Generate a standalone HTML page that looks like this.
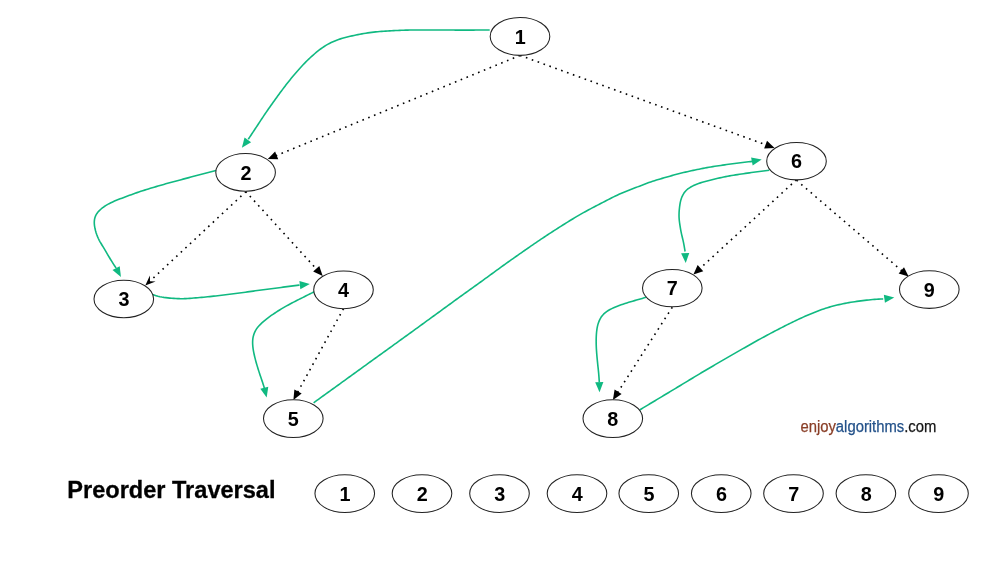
<!DOCTYPE html>
<html><head><meta charset="utf-8"><title>Preorder Traversal</title>
<style>html,body{margin:0;padding:0;background:#fff;overflow:hidden}svg{display:block;will-change:transform}text{font-family:"Liberation Sans",sans-serif}</style></head><body>
<svg width="1000" height="563" viewBox="0 0 1000 563">
<rect width="1000" height="563" fill="#fff"/>
<g>
<line x1="520.00" y1="55.40" x2="275.75" y2="155.73" stroke="#000" stroke-width="1.62" stroke-dasharray="1.62 4.63"/><polygon points="267.80,159.00 275.10,151.51 278.26,159.19" fill="#000"/>
<line x1="520.00" y1="55.40" x2="766.52" y2="145.06" stroke="#000" stroke-width="1.62" stroke-dasharray="1.62 4.63"/><polygon points="774.60,148.00 764.16,148.62 767.00,140.82" fill="#000"/>
<line x1="246.00" y1="191.60" x2="150.05" y2="281.07" stroke="#000" stroke-width="1.62" stroke-dasharray="1.62 4.63"/><polygon points="145.30,285.50 149.90,275.47 149.98,281.14 155.62,281.62" fill="#000"/>
<line x1="245.60" y1="191.40" x2="316.90" y2="269.55" stroke="#000" stroke-width="1.62" stroke-dasharray="1.62 4.63"/><polygon points="322.70,275.90 313.16,271.61 319.30,266.01" fill="#000"/>
<line x1="343.50" y1="308.60" x2="297.54" y2="392.36" stroke="#000" stroke-width="1.62" stroke-dasharray="1.62 4.63"/><polygon points="293.40,399.90 294.38,389.49 301.66,393.48" fill="#000"/>
<line x1="796.50" y1="179.70" x2="699.73" y2="268.78" stroke="#000" stroke-width="1.62" stroke-dasharray="1.62 4.63"/><polygon points="693.40,274.60 697.65,265.05 703.27,271.15" fill="#000"/>
<line x1="796.50" y1="180.20" x2="902.08" y2="270.99" stroke="#000" stroke-width="1.62" stroke-dasharray="1.62 4.63"/><polygon points="908.60,276.60 898.62,273.49 904.03,267.19" fill="#000"/>
<line x1="672.30" y1="307.20" x2="617.54" y2="392.66" stroke="#000" stroke-width="1.62" stroke-dasharray="1.62 4.63"/><polygon points="612.90,399.90 614.59,389.58 621.57,394.06" fill="#000"/>
</g>
<g fill="none" stroke="#10B981" stroke-width="1.6" stroke-linejoin="round">
<path d="M489.70,30.00 L487.70,30.01 L485.70,30.02 L483.70,30.03 L481.70,30.04 L479.70,30.05 L477.70,30.06 L475.70,30.07 L473.70,30.08 L471.70,30.09 L469.69,30.10 L467.69,30.10 L465.69,30.11 L463.69,30.11 L461.69,30.10 L459.69,30.10 L457.69,30.09 L455.69,30.08 L453.69,30.07 L451.69,30.06 L449.69,30.05 L447.69,30.04 L445.69,30.03 L443.69,30.02 L441.69,30.01 L439.69,30.00 L437.69,29.99 L435.69,29.98 L433.69,29.97 L431.68,29.96 L429.68,29.95 L427.68,29.94 L425.68,29.94 L423.68,29.94 L421.68,29.94 L419.68,29.95 L417.68,29.97 L415.68,29.99 L413.68,30.01 L411.68,30.03 L409.68,30.07 L407.68,30.11 L405.68,30.16 L403.68,30.22 L401.68,30.28 L399.68,30.35 L397.68,30.43 L395.68,30.52 L393.69,30.61 L391.69,30.72 L389.69,30.83 L387.69,30.95 L385.70,31.08 L383.70,31.22 L381.71,31.37 L379.71,31.52 L377.72,31.68 L375.73,31.87 L373.74,32.09 L371.75,32.34 L369.77,32.62 L367.79,32.91 L365.82,33.22 L363.84,33.54 L361.87,33.88 L359.90,34.24 L357.94,34.62 L355.98,35.01 L354.02,35.42 L352.06,35.85 L350.11,36.28 L348.16,36.74 L346.22,37.22 L344.29,37.73 L342.36,38.28 L340.45,38.87 L338.56,39.51 L336.68,40.20 L334.82,40.93 L332.98,41.72 L331.17,42.55 L329.38,43.45 L327.62,44.40 L325.89,45.40 L324.20,46.47 L322.54,47.59 L320.91,48.75 L319.32,49.96 L317.75,51.20 L316.19,52.46 L314.66,53.74 L313.14,55.04 L311.64,56.37 L310.17,57.72 L308.72,59.10 L307.29,60.50 L305.87,61.91 L304.48,63.35 L303.10,64.80 L301.74,66.26 L300.39,67.74 L299.05,69.23 L297.73,70.72 L296.41,72.23 L295.10,73.74 L293.80,75.26 L292.51,76.79 L291.23,78.33 L289.97,79.88 L288.72,81.44 L287.48,83.01 L286.25,84.59 L285.03,86.18 L283.82,87.77 L282.62,89.37 L281.42,90.97 L280.23,92.58 L279.04,94.19 L277.86,95.80 L276.68,97.42 L275.51,99.04 L274.34,100.67 L273.18,102.29 L272.02,103.92 L270.86,105.56 L269.71,107.19 L268.56,108.83 L267.42,110.47 L266.28,112.12 L265.15,113.77 L264.04,115.43 L262.93,117.09 L261.82,118.76 L260.72,120.43 L259.62,122.10 L258.52,123.77 L257.41,125.44 L256.30,127.10 L255.20,128.77 L254.09,130.44 L252.99,132.11 L251.89,133.78 L250.78,135.45 L249.68,137.11 L248.58,138.78 L248.30,139.20"/>
<path d="M216.00,170.40 L214.07,170.92 L212.13,171.43 L210.20,171.95 L208.26,172.46 L206.33,172.98 L204.39,173.50 L202.46,174.01 L200.52,174.53 L198.59,175.04 L196.65,175.56 L194.72,176.07 L192.78,176.59 L190.85,177.10 L188.91,177.62 L186.98,178.13 L185.04,178.63 L183.10,179.14 L181.17,179.65 L179.23,180.16 L177.30,180.67 L175.36,181.19 L173.43,181.71 L171.49,182.23 L169.56,182.77 L167.64,183.30 L165.71,183.85 L163.78,184.40 L161.86,184.95 L159.94,185.50 L158.01,186.06 L156.09,186.63 L154.17,187.20 L152.25,187.77 L150.34,188.34 L148.42,188.93 L146.51,189.52 L144.60,190.12 L142.69,190.73 L140.79,191.35 L138.89,191.98 L136.99,192.63 L135.10,193.30 L133.22,193.97 L131.34,194.66 L129.46,195.36 L127.59,196.05 L125.71,196.75 L123.83,197.45 L121.96,198.15 L120.09,198.86 L118.22,199.59 L116.36,200.33 L114.51,201.10 L112.68,201.91 L110.87,202.76 L109.09,203.67 L107.33,204.64 L105.62,205.68 L103.96,206.79 L102.36,207.98 L100.81,209.25 L99.35,210.61 L97.99,212.08 L96.79,213.66 L95.80,215.38 L95.06,217.22 L94.57,219.15 L94.32,221.13 L94.28,223.12 L94.42,225.11 L94.72,227.08 L95.12,229.04 L95.61,230.99 L96.17,232.91 L96.81,234.80 L97.53,236.66 L98.35,238.49 L99.24,240.28 L100.21,242.04 L101.22,243.76 L102.25,245.48 L103.29,247.19 L104.33,248.90 L105.36,250.62 L106.37,252.35 L107.37,254.08 L108.38,255.81 L109.40,257.53 L110.43,259.25 L111.49,260.95 L112.56,262.64 L113.64,264.32 L114.73,266.00 L115.83,267.68 L116.10,268.10"/>
<path d="M152.20,294.50 L154.11,295.08 L156.03,295.66 L157.95,296.20 L159.90,296.68 L161.86,297.08 L163.83,297.40 L165.81,297.66 L167.80,297.88 L169.79,298.08 L171.78,298.25 L173.78,298.40 L175.78,298.52 L177.78,298.61 L179.78,298.67 L181.78,298.68 L183.78,298.66 L185.78,298.59 L187.77,298.49 L189.77,298.36 L191.76,298.21 L193.76,298.04 L195.75,297.87 L197.75,297.71 L199.74,297.54 L201.73,297.36 L203.73,297.18 L205.72,296.99 L207.71,296.80 L209.70,296.59 L211.69,296.38 L213.68,296.17 L215.67,295.95 L217.65,295.72 L219.64,295.50 L221.63,295.27 L223.62,295.03 L225.60,294.79 L227.59,294.54 L229.57,294.29 L231.56,294.04 L233.54,293.79 L235.53,293.53 L237.51,293.27 L239.49,293.00 L241.48,292.73 L243.46,292.46 L245.44,292.19 L247.42,291.91 L249.40,291.64 L251.39,291.37 L253.37,291.10 L255.35,290.83 L257.34,290.57 L259.32,290.31 L261.30,290.04 L263.29,289.78 L265.27,289.52 L267.25,289.26 L269.24,288.99 L271.22,288.73 L273.20,288.47 L275.19,288.21 L277.17,287.95 L279.16,287.69 L281.14,287.42 L283.12,287.16 L285.11,286.89 L287.09,286.63 L289.07,286.37 L291.06,286.12 L293.04,285.87 L295.03,285.63 L297.02,285.39 L299.00,285.16 L299.50,285.10"/>
<path d="M315.10,291.30 L313.31,292.20 L311.52,293.10 L309.73,294.00 L307.94,294.90 L306.15,295.81 L304.36,296.71 L302.57,297.61 L300.78,298.51 L298.99,299.41 L297.20,300.30 L295.41,301.20 L293.62,302.11 L291.84,303.04 L290.08,303.98 L288.32,304.94 L286.57,305.91 L284.82,306.90 L283.09,307.90 L281.36,308.92 L279.65,309.97 L277.95,311.03 L276.27,312.11 L274.59,313.21 L272.93,314.32 L271.27,315.46 L269.64,316.62 L268.03,317.81 L266.44,319.03 L264.89,320.30 L263.37,321.61 L261.89,322.95 L260.44,324.34 L259.05,325.78 L257.74,327.29 L256.54,328.88 L255.50,330.58 L254.63,332.38 L253.91,334.24 L253.33,336.16 L252.93,338.11 L252.70,340.10 L252.62,342.10 L252.66,344.10 L252.80,346.09 L253.02,348.08 L253.32,350.07 L253.67,352.04 L254.07,354.00 L254.51,355.96 L254.97,357.90 L255.47,359.85 L255.98,361.78 L256.53,363.71 L257.09,365.63 L257.68,367.55 L258.27,369.46 L258.88,371.37 L259.49,373.28 L260.12,375.18 L260.77,377.08 L261.42,378.97 L262.07,380.87 L262.71,382.77 L263.32,384.68 L263.90,386.59 L264.46,388.52 L264.60,389.00"/>
<path d="M313.60,402.80 L315.22,401.63 L316.85,400.46 L318.47,399.29 L320.09,398.12 L321.72,396.95 L323.34,395.77 L324.96,394.60 L326.58,393.43 L328.21,392.26 L329.83,391.09 L331.45,389.92 L333.07,388.75 L334.70,387.57 L336.32,386.40 L337.94,385.23 L339.56,384.06 L341.18,382.88 L342.81,381.71 L344.43,380.54 L346.05,379.37 L347.67,378.19 L349.29,377.02 L350.91,375.85 L352.54,374.67 L354.16,373.50 L355.78,372.33 L357.40,371.16 L359.02,369.98 L360.64,368.81 L362.27,367.64 L363.89,366.46 L365.51,365.29 L367.13,364.12 L368.75,362.95 L370.37,361.77 L372.00,360.60 L373.62,359.43 L375.24,358.26 L376.87,357.09 L378.49,355.92 L380.12,354.75 L381.74,353.58 L383.36,352.41 L384.99,351.24 L386.61,350.07 L388.23,348.90 L389.86,347.73 L391.48,346.56 L393.10,345.39 L394.72,344.21 L396.35,343.04 L397.97,341.87 L399.59,340.70 L401.21,339.52 L402.83,338.35 L404.45,337.18 L406.08,336.00 L407.70,334.83 L409.32,333.66 L410.94,332.48 L412.56,331.31 L414.18,330.13 L415.80,328.96 L417.42,327.78 L419.04,326.61 L420.66,325.43 L422.28,324.25 L423.90,323.08 L425.51,321.90 L427.13,320.72 L428.75,319.55 L430.37,318.37 L431.99,317.19 L433.61,316.01 L435.22,314.84 L436.84,313.66 L438.46,312.48 L440.08,311.30 L441.70,310.12 L443.31,308.95 L444.93,307.77 L446.55,306.59 L448.16,305.41 L449.78,304.23 L451.40,303.05 L453.02,301.87 L454.63,300.69 L456.25,299.52 L457.87,298.34 L459.49,297.17 L461.12,296.00 L462.74,294.82 L464.36,293.66 L465.99,292.49 L467.62,291.32 L469.24,290.16 L470.87,288.99 L472.50,287.83 L474.12,286.66 L475.75,285.49 L477.38,284.33 L479.00,283.16 L480.62,281.99 L482.25,280.81 L483.86,279.64 L485.48,278.46 L487.10,277.28 L488.72,276.10 L490.33,274.92 L491.95,273.74 L493.56,272.56 L495.18,271.38 L496.80,270.20 L498.42,269.03 L500.04,267.85 L501.66,266.68 L503.28,265.51 L504.91,264.34 L506.54,263.18 L508.17,262.02 L509.80,260.86 L511.44,259.71 L513.07,258.55 L514.71,257.40 L516.35,256.25 L517.99,255.11 L519.63,253.96 L521.27,252.81 L522.91,251.67 L524.55,250.52 L526.19,249.38 L527.84,248.24 L529.48,247.09 L531.13,245.96 L532.77,244.82 L534.42,243.69 L536.08,242.56 L537.73,241.43 L539.39,240.31 L541.05,239.20 L542.72,238.09 L544.38,236.98 L546.05,235.88 L547.72,234.78 L549.40,233.68 L551.08,232.59 L552.75,231.50 L554.44,230.41 L556.12,229.33 L557.81,228.25 L559.49,227.18 L561.18,226.11 L562.88,225.04 L564.57,223.97 L566.27,222.91 L567.96,221.85 L569.67,220.79 L571.37,219.75 L573.08,218.70 L574.79,217.67 L576.51,216.64 L578.24,215.63 L579.97,214.63 L581.71,213.63 L583.45,212.66 L585.20,211.69 L586.96,210.73 L588.73,209.79 L590.49,208.85 L592.26,207.91 L594.04,206.99 L595.81,206.06 L597.59,205.14 L599.36,204.21 L601.13,203.29 L602.91,202.36 L604.68,201.43 L606.46,200.51 L608.24,199.60 L610.02,198.69 L611.81,197.79 L613.60,196.90 L615.40,196.03 L617.21,195.17 L619.04,194.34 L620.87,193.54 L622.71,192.75 L624.56,191.99 L626.41,191.24 L628.28,190.51 L630.14,189.78 L632.01,189.06 L633.87,188.34 L635.74,187.61 L637.60,186.88 L639.47,186.15 L641.33,185.43 L643.20,184.71 L645.07,184.00 L646.95,183.30 L648.83,182.62 L650.71,181.95 L652.61,181.30 L654.51,180.68 L656.42,180.08 L658.33,179.49 L660.25,178.92 L662.17,178.36 L664.09,177.81 L666.02,177.26 L667.94,176.71 L669.87,176.17 L671.79,175.62 L673.72,175.07 L675.65,174.54 L677.58,174.02 L679.52,173.52 L681.46,173.03 L683.41,172.57 L685.36,172.12 L687.31,171.67 L689.26,171.24 L691.22,170.81 L693.17,170.39 L695.13,169.98 L697.09,169.57 L699.05,169.17 L701.02,168.78 L702.98,168.39 L704.95,168.02 L706.91,167.66 L708.88,167.30 L710.86,166.96 L712.83,166.63 L714.81,166.32 L716.78,166.01 L718.76,165.71 L720.74,165.42 L722.72,165.14 L724.70,164.86 L726.69,164.58 L728.67,164.31 L730.65,164.04 L732.64,163.77 L734.62,163.51 L736.60,163.25 L738.59,163.00 L740.58,162.76 L742.56,162.52 L744.55,162.29 L746.54,162.05 L748.53,161.82 L750.52,161.59 L752.50,161.36 L753.00,161.30"/>
<path d="M769.30,170.30 L767.31,170.56 L765.33,170.81 L763.34,171.07 L761.35,171.32 L759.37,171.58 L757.38,171.83 L755.39,172.08 L753.40,172.33 L751.42,172.58 L749.43,172.84 L747.44,173.10 L745.46,173.38 L743.48,173.67 L741.50,173.97 L739.52,174.28 L737.54,174.59 L735.56,174.91 L733.59,175.23 L731.61,175.56 L729.64,175.90 L727.67,176.26 L725.70,176.64 L723.74,177.04 L721.78,177.45 L719.82,177.88 L717.86,178.31 L715.91,178.77 L713.97,179.24 L712.02,179.72 L710.08,180.20 L708.13,180.69 L706.19,181.19 L704.26,181.71 L702.34,182.27 L700.43,182.87 L698.54,183.53 L696.66,184.23 L694.81,185.00 L693.00,185.84 L691.23,186.77 L689.52,187.81 L687.89,188.97 L686.37,190.26 L685.01,191.72 L683.83,193.32 L682.82,195.04 L681.96,196.84 L681.26,198.71 L680.69,200.63 L680.24,202.58 L679.90,204.55 L679.63,206.53 L679.41,208.52 L679.22,210.52 L679.09,212.51 L679.03,214.52 L679.03,216.52 L679.13,218.52 L679.30,220.51 L679.54,222.50 L679.81,224.48 L680.12,226.46 L680.44,228.44 L680.79,230.41 L681.18,232.38 L681.60,234.33 L682.06,236.28 L682.53,238.23 L682.99,240.18 L683.42,242.14 L683.82,244.10 L684.18,246.07 L684.52,248.04 L684.85,250.02 L685.10,251.50"/>
<path d="M646.10,297.30 L644.17,297.85 L642.24,298.41 L640.31,298.96 L638.38,299.52 L636.45,300.08 L634.52,300.64 L632.59,301.20 L630.66,301.76 L628.74,302.33 L626.82,302.91 L624.90,303.52 L622.99,304.15 L621.10,304.81 L619.21,305.50 L617.34,306.23 L615.48,306.99 L613.64,307.78 L611.81,308.62 L610.02,309.52 L608.28,310.51 L606.61,311.62 L605.03,312.86 L603.56,314.21 L602.21,315.69 L601.03,317.30 L600.04,319.04 L599.19,320.85 L598.47,322.72 L597.87,324.63 L597.39,326.58 L597.02,328.55 L596.75,330.54 L596.54,332.54 L596.38,334.54 L596.27,336.55 L596.20,338.55 L596.17,340.56 L596.18,342.57 L596.21,344.58 L596.28,346.58 L596.37,348.59 L596.50,350.59 L596.64,352.60 L596.80,354.60 L596.97,356.60 L597.16,358.60 L597.36,360.60 L597.56,362.60 L597.76,364.60 L597.97,366.59 L598.19,368.59 L598.40,370.59 L598.60,372.59 L598.77,374.59 L598.93,376.59 L599.07,378.59 L599.20,380.60 L599.30,382.10"/>
<path d="M639.60,410.00 L641.31,408.97 L643.03,407.93 L644.74,406.90 L646.46,405.86 L648.17,404.83 L649.89,403.80 L651.60,402.76 L653.32,401.73 L655.03,400.70 L656.75,399.66 L658.46,398.63 L660.18,397.60 L661.90,396.56 L663.61,395.53 L665.33,394.50 L667.05,393.47 L668.76,392.44 L670.48,391.41 L672.20,390.38 L673.92,389.35 L675.63,388.32 L677.35,387.29 L679.06,386.26 L680.78,385.22 L682.49,384.18 L684.20,383.14 L685.91,382.10 L687.62,381.06 L689.33,380.02 L691.05,378.98 L692.76,377.95 L694.48,376.92 L696.19,375.89 L697.91,374.86 L699.63,373.83 L701.35,372.81 L703.08,371.79 L704.80,370.77 L706.52,369.75 L708.25,368.73 L709.97,367.72 L711.70,366.70 L713.43,365.69 L715.16,364.68 L716.89,363.68 L718.62,362.67 L720.35,361.67 L722.09,360.66 L723.82,359.66 L725.55,358.66 L727.29,357.66 L729.02,356.65 L730.76,355.65 L732.49,354.65 L734.23,353.65 L735.96,352.66 L737.70,351.66 L739.44,350.66 L741.18,349.67 L742.91,348.68 L744.65,347.69 L746.39,346.69 L748.13,345.70 L749.87,344.71 L751.62,343.73 L753.36,342.74 L755.11,341.76 L756.86,340.79 L758.61,339.82 L760.36,338.85 L762.12,337.89 L763.88,336.94 L765.64,335.99 L767.41,335.04 L769.17,334.10 L770.94,333.16 L772.71,332.22 L774.49,331.29 L776.26,330.37 L778.04,329.44 L779.82,328.52 L781.60,327.61 L783.38,326.69 L785.17,325.79 L786.95,324.89 L788.75,324.00 L790.54,323.11 L792.34,322.24 L794.15,321.36 L795.95,320.50 L797.76,319.64 L799.57,318.79 L801.39,317.94 L803.21,317.11 L805.04,316.29 L806.87,315.49 L808.71,314.70 L810.56,313.93 L812.41,313.16 L814.26,312.41 L816.13,311.67 L818.00,310.95 L819.87,310.25 L821.76,309.58 L823.65,308.93 L825.55,308.31 L827.47,307.71 L829.38,307.14 L831.31,306.59 L833.24,306.07 L835.18,305.57 L837.13,305.08 L839.07,304.62 L841.03,304.18 L842.98,303.76 L844.95,303.37 L846.92,303.00 L848.89,302.65 L850.86,302.31 L852.84,301.99 L854.82,301.68 L856.80,301.39 L858.78,301.11 L860.77,300.85 L862.75,300.60 L864.74,300.37 L866.73,300.14 L868.72,299.93 L870.71,299.73 L872.71,299.55 L874.70,299.38 L876.70,299.25 L878.70,299.13 L880.70,299.03 L882.70,298.93 L883.20,298.90"/>
</g>
<polygon points="241.88,147.86 244.54,137.39 251.13,142.27" fill="#10B981"/>
<polygon points="120.94,276.91 112.53,270.12 119.72,266.17" fill="#10B981"/>
<polygon points="309.80,283.92 300.33,289.13 299.39,280.99" fill="#10B981"/>
<polygon points="266.67,397.48 260.32,388.73 268.28,386.79" fill="#10B981"/>
<polygon points="761.69,159.56 752.68,165.54 751.08,157.50" fill="#10B981"/>
<polygon points="685.74,263.10 681.10,253.34 689.28,252.89" fill="#10B981"/>
<polygon points="599.51,392.20 595.20,382.29 603.40,382.11" fill="#10B981"/>
<polygon points="894.29,297.41 884.93,302.80 883.84,294.68" fill="#10B981"/>
<g fill="#fff" stroke="#222" stroke-width="1.05">
<ellipse cx="520" cy="36.4" rx="29.8" ry="18.95"/>
<ellipse cx="245.6" cy="172.4" rx="29.8" ry="18.85"/>
<ellipse cx="123.8" cy="299.0" rx="29.8" ry="18.7"/>
<ellipse cx="343.5" cy="289.8" rx="29.8" ry="18.9"/>
<ellipse cx="293.3" cy="418.6" rx="29.8" ry="18.95"/>
<ellipse cx="796.5" cy="161.2" rx="29.8" ry="18.65"/>
<ellipse cx="672.3" cy="288.1" rx="29.8" ry="18.7"/>
<ellipse cx="612.8" cy="418.6" rx="29.8" ry="18.95"/>
<ellipse cx="929.3" cy="289.5" rx="29.8" ry="18.85"/>
<ellipse cx="344.75" cy="493.6" rx="29.8" ry="18.85"/>
<ellipse cx="422" cy="493.6" rx="29.8" ry="18.85"/>
<ellipse cx="499.5" cy="493.6" rx="29.8" ry="18.85"/>
<ellipse cx="577" cy="493.6" rx="29.8" ry="18.85"/>
<ellipse cx="648.75" cy="493.6" rx="29.8" ry="18.85"/>
<ellipse cx="721.25" cy="493.6" rx="29.8" ry="18.85"/>
<ellipse cx="793.5" cy="493.6" rx="29.8" ry="18.85"/>
<ellipse cx="865.9" cy="493.6" rx="29.8" ry="18.85"/>
<ellipse cx="938.5" cy="493.6" rx="29.8" ry="18.85"/>
</g>
<g font-weight="bold" font-size="19.8" text-anchor="middle" fill="#000">
<text x="520.30" y="43.80">1</text>
<text x="245.90" y="180.00">2</text>
<text x="124.00" y="306.40">3</text>
<text x="343.60" y="297.40">4</text>
<text x="293.20" y="425.50">5</text>
<text x="796.40" y="168.10">6</text>
<text x="672.20" y="295.00">7</text>
<text x="612.70" y="425.50">8</text>
<text x="929.20" y="297.20">9</text>
<text x="345.05" y="500.60">1</text>
<text x="422.30" y="500.60">2</text>
<text x="499.80" y="500.60">3</text>
<text x="577.30" y="500.60">4</text>
<text x="649.05" y="500.60">5</text>
<text x="721.55" y="500.60">6</text>
<text x="793.80" y="500.60">7</text>
<text x="866.20" y="500.60">8</text>
<text x="938.80" y="500.60">9</text>
</g>
<text x="67.3" y="498.0" font-weight="bold" font-size="23.5" textLength="208.2" lengthAdjust="spacingAndGlyphs" fill="#000" stroke="#000" stroke-width="0.3">Preorder Traversal</text>
<text x="800.4" y="431.6" font-size="15.6" textLength="136" lengthAdjust="spacingAndGlyphs" stroke-width="0.25"><tspan fill="#8a3f28" stroke="#8a3f28">enjoy</tspan><tspan fill="#24528a" stroke="#24528a">algorithms</tspan><tspan fill="#151515" stroke="#151515">.com</tspan></text>
</svg></body></html>
